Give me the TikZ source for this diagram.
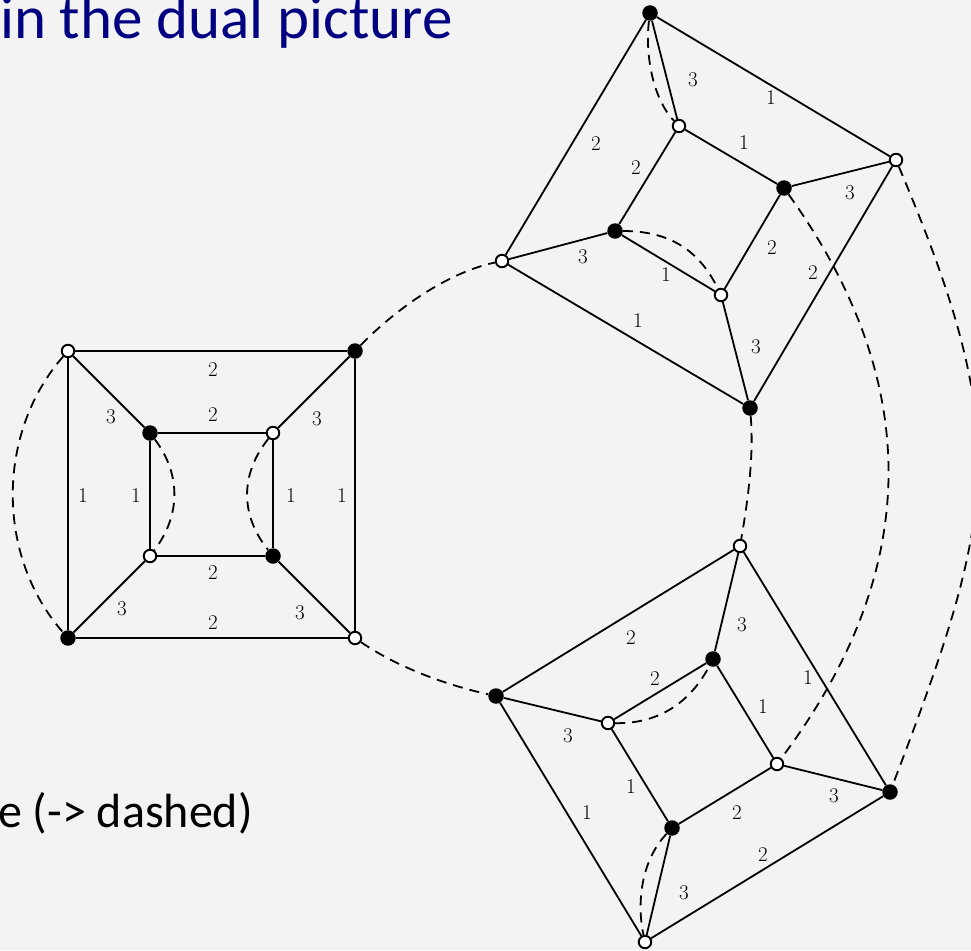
\documentclass[tikz,border=0pt]{standalone}
\usepackage{fontspec}
\newfontfamily\slidefont{Carlito}
\definecolor{slidebg}{RGB}{243,243,243}
\definecolor{titleblue}{RGB}{0,0,128}
\begin{document}
\begin{tikzpicture}[x=1pt, y=-1pt,
bv/.style={circle, fill=black, inner sep=0pt, minimum size=15.5pt},
wv/.style={circle, draw, fill=white, line width=1.9pt, inner sep=0pt, minimum size=12.5pt},
cubeedge/.style={line width=1.8pt},
dualedge/.style={line width=1.8pt, dash pattern=on 10pt off 7pt},
lbl/.style={font=\fontsize{21}{21}\selectfont, inner sep=0pt}
]
\path[use as bounding box, fill=slidebg] (0,0) rectangle (971,950);

\node[anchor=base east, inner sep=0pt, text=titleblue, font=\slidefont\fontsize{61}{61}\selectfont] (title) at (453,38) {in the dual picture};
\node[anchor=base east, inner sep=0pt, font=\slidefont\fontsize{48}{48}\selectfont] (note) at (253,827) {e (-> dashed)};

% left cube
\node[wv] (Lnw) at (68,351) {};
\node[bv] (Lne) at (355,351) {};
\node[bv] (Lsw) at (68,638) {};
\node[wv] (Lse) at (355,638) {};
\node[bv] (lnw) at (150,433) {};
\node[wv] (lne) at (273,433) {};
\node[wv] (lsw) at (150,556) {};
\node[bv] (lse) at (273,556) {};

% top cube
\node[bv] (Tn) at (650,13) {};
\node[wv] (Te) at (896,160) {};
\node[bv] (Ts) at (750,408) {};
\node[wv] (Tw) at (502,261) {};
\node[wv] (tn) at (679,126) {};
\node[bv] (te) at (784,188) {};
\node[wv] (ts) at (721,295) {};
\node[bv] (tw) at (615,231) {};

% bottom cube
\node[wv] (Bn) at (740,546) {};
\node[bv] (Bw) at (496,696) {};
\node[wv] (Bs) at (645,942) {};
\node[bv] (Be) at (890,792) {};
\node[bv] (bn) at (713,659) {};
\node[wv] (bw) at (608,723) {};
\node[bv] (bs) at (672,828) {};
\node[wv] (be) at (777,764) {};

% edges of the left cube
\draw[cubeedge] (Lnw) -- (Lne) node[lbl] at (213,370) {2};
\draw[cubeedge] (Lsw) -- (Lse) node[lbl] at (213,623) {2};
\draw[cubeedge] (Lnw) -- (Lsw) node[lbl] at (83,496) {1};
\draw[cubeedge] (Lne) -- (Lse) node[lbl] at (342,496) {1};
\draw[cubeedge] (lnw) -- (lne) node[lbl] at (213,415) {2};
\draw[cubeedge] (lsw) -- (lse) node[lbl] at (213,573) {2};
\draw[cubeedge] (lnw) -- (lsw) node[lbl] at (136,496) {1};
\draw[cubeedge] (lne) -- (lse) node[lbl] at (291,496) {1};
\draw[cubeedge] (Lnw) -- (lnw) node[lbl] at (111,417) {3};
\draw[cubeedge] (Lne) -- (lne) node[lbl] at (317,419) {3};
\draw[cubeedge] (Lsw) -- (lsw) node[lbl] at (122,609) {3};
\draw[cubeedge] (Lse) -- (lse) node[lbl] at (300,613) {3};

% edges of the top cube
\draw[cubeedge] (Tn) -- (Tw) node[lbl] at (596,144) {2};
\draw[cubeedge] (Tn) -- (Te) node[lbl] at (771,98) {1};
\draw[cubeedge] (Te) -- (Ts) node[lbl] at (813,273) {2};
\draw[cubeedge] (Tw) -- (Ts) node[lbl] at (638,321) {1};
\draw[cubeedge] (tn) -- (te) node[lbl] at (744,143) {1};
\draw[cubeedge] (tn) -- (tw) node[lbl] at (636,168) {2};
\draw[cubeedge] (te) -- (ts) node[lbl] at (772,248) {2};
\draw[cubeedge] (tw) -- (ts) node[lbl] at (666,275) {1};
\draw[cubeedge] (Tn) -- (tn) node[lbl] at (693,80) {3};
\draw[cubeedge] (Te) -- (te) node[lbl] at (850,193) {3};
\draw[cubeedge] (Ts) -- (ts) node[lbl] at (756,347) {3};
\draw[cubeedge] (Tw) -- (tw) node[lbl] at (583,257) {3};

% edges of the bottom cube
\draw[cubeedge] (Bn) -- (Bw) node[lbl] at (631,638) {2};
\draw[cubeedge] (Bn) -- (Be) node[lbl] at (808,678) {1};
\draw[cubeedge] (Bw) -- (Bs) node[lbl] at (587,813) {1};
\draw[cubeedge] (Bs) -- (Be) node[lbl] at (763,855) {2};
\draw[cubeedge] (bn) -- (bw) node[lbl] at (655,679) {2};
\draw[cubeedge] (bn) -- (be) node[lbl] at (763,707) {1};
\draw[cubeedge] (bw) -- (bs) node[lbl] at (631,787) {1};
\draw[cubeedge] (bs) -- (be) node[lbl] at (737,813) {2};
\draw[cubeedge] (Bn) -- (bn) node[lbl] at (742,625) {3};
\draw[cubeedge] (Bw) -- (bw) node[lbl] at (568,736) {3};
\draw[cubeedge] (Bs) -- (bs) node[lbl] at (684,893) {3};
\draw[cubeedge] (Be) -- (be) node[lbl] at (834,796) {3};

% dashed matching
\draw[dualedge] (Lnw) .. controls (-4,433) and (-4,556) .. (Lsw);
\draw[dualedge] (lnw) .. controls (181,474) and (181,515) .. (lsw);
\draw[dualedge] (lne) .. controls (240,474) and (240,515) .. (lse);
\draw[dualedge] (Lne) .. controls (395,310) and (446,273) .. (Tw);
\draw[dualedge] (Lse) .. controls (397,667) and (446,685) .. (Bw);
\draw[dualedge] (Tn) .. controls (645,52) and (652,98) .. (tn);
\draw[dualedge] (tw) .. controls (667,231) and (698,248) .. (ts);
\draw[dualedge] (Ts) .. controls (754,455) and (748,500) .. (Bn);
\draw[dualedge] (te) .. controls (925,385) and (921,572) .. (be);
\draw[dualedge] (Te) .. controls (1013,436) and (997,512) .. (Be);
\draw[dualedge] (bw) .. controls (658,724) and (690,703) .. (bn);
\draw[dualedge] (bs) .. controls (640,862) and (637,905) .. (Bs);
\end{tikzpicture}
\end{document}
